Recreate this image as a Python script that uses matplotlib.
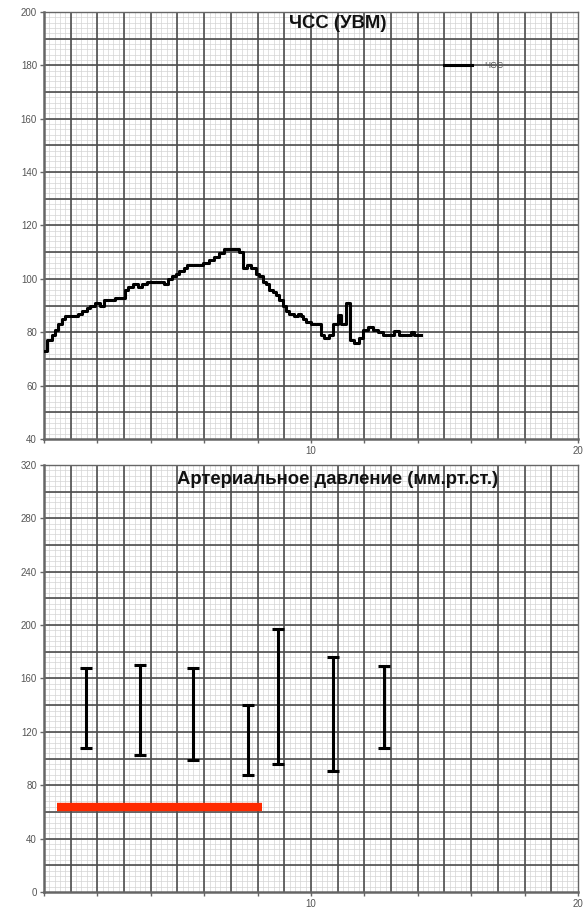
import matplotlib
matplotlib.use("Agg")
import matplotlib.pyplot as plt
import numpy as np

plt.rcParams["font.family"] = ["Liberation Sans", "DejaVu Sans"]

# heart rate trace: start of each step (x) and value held until the next step
hr_x = [0.0, 0.125, 0.29, 0.41, 0.54, 0.66, 0.79, 1.29, 1.41, 1.6, 1.73, 1.91,
        2.1, 2.23, 2.66, 3.04, 3.16, 3.35, 3.54, 3.66, 3.85, 4.48, 4.66, 4.79,
        4.95, 5.06, 5.25, 5.37, 5.94, 6.19, 6.37, 6.56, 6.75, 7.31, 7.44, 7.62,
        7.75, 7.94, 8.06, 8.19, 8.31, 8.44, 8.56, 8.69, 8.81, 8.94, 9.06, 9.19,
        9.37, 9.5, 9.62, 9.69, 9.81, 10.0, 10.37, 10.5, 10.69, 10.81, 11.0,
        11.12, 11.31, 11.46, 11.62, 11.81, 11.94, 12.12, 12.31, 12.5, 12.69,
        13.12, 13.31, 13.75, 13.87]
hr_y = [73, 77, 79, 81, 83, 85, 86, 87, 88, 89, 90, 91,
        90, 92, 93, 96, 97, 98, 97, 98, 99, 98, 100, 101,
        102, 103, 104, 105, 106, 107, 108, 109.5, 111, 110, 104, 105,
        104, 102, 101, 99, 98, 96, 95, 94, 92, 90, 88, 87,
        86, 87, 86, 85, 84, 83, 79, 78, 79, 83, 86.5,
        83, 91, 77, 76, 78, 81, 82, 81, 80, 79,
        80.5, 79, 80, 79]
hr_end = 14.12

# blood pressure measurements
bp_x = [1.56, 3.6, 5.57, 7.63, 8.78, 10.81, 12.75]
bp_sys = [168, 170, 168, 140, 197, 176, 169]
bp_dia = [108, 103, 99, 88, 96, 91, 108]

# red marker bar
red_x = [0.5, 8.15]
red_y = 63.5

TITLE_HR = "ЧСС (УВМ)"
TITLE_BP = "Артериальное давление (мм.рт.ст.)"


def graph_paper(ax, ymin, ymax, ymajor, ytick):
    ax.set_xlim(0, 20)
    ax.set_ylim(ymin, ymax)
    for x in np.arange(0, 20.01, 0.2):
        ax.axvline(x, color="#d4d4d4", lw=0.5, zorder=0)
    for y in np.arange(ymin, ymax + 0.01, ymajor / 5):
        ax.axhline(y, color="#d4d4d4", lw=0.5, zorder=0)
    for x in np.arange(1, 20, 1):
        ax.axvline(x, color="#4d4d4d", lw=1.2, zorder=1)
    for y in np.arange(ymin + ymajor, ymax, ymajor):
        ax.axhline(y, color="#4d4d4d", lw=1.2, zorder=1)
    for s in ax.spines.values():
        s.set_color("#666666")
    ax.spines["left"].set_linewidth(1.8)
    ax.spines["bottom"].set_linewidth(1.8)
    ax.spines["top"].set_linewidth(1.0)
    ax.spines["right"].set_linewidth(1.0)
    ax.set_xticks(np.arange(0, 21, 2))
    ax.set_xticklabels(["10" if v == 10 else "20" if v == 20 else "" for v in range(0, 21, 2)])
    ax.set_yticks(np.arange(ymin, ymax + 1, ytick))
    ax.tick_params(colors="#666666", labelsize=7, length=3, width=1.0,
                   labelcolor="#555555", pad=2)


fig = plt.figure(figsize=(5.84, 9.13), dpi=100)
ax1 = fig.add_axes([0.0753, 0.5192, 0.9144, 0.4677])
ax2 = fig.add_axes([0.0753, 0.023, 0.9144, 0.4677])

# top: heart rate
graph_paper(ax1, 40, 200, 10, 20)
ax1.step(hr_x + [hr_end], hr_y + [hr_y[-1]], where="post", color="black",
         lw=2.2, zorder=3, label="ЧСС")
ax1.text(0.55, 0.972, TITLE_HR, transform=ax1.transAxes, ha="center", va="center",
         fontsize=13.3, fontweight="bold", color="#111111")
ax1.legend(loc="center left", bbox_to_anchor=(0.75, 0.875), frameon=False,
           fontsize=6.5, handlelength=3.0, handletextpad=1.4, borderpad=0,
           borderaxespad=0, labelcolor="#555555")

# bottom: arterial pressure
graph_paper(ax2, 0, 320, 20, 40)
mid = [(s + d) / 2 for s, d in zip(bp_sys, bp_dia)]
half = [(s - d) / 2 for s, d in zip(bp_sys, bp_dia)]
ax2.errorbar(bp_x, mid, yerr=half, fmt="none", ecolor="black", elinewidth=2.2,
             capsize=4, capthick=2.2, zorder=3)
ax2.plot(red_x, [red_y, red_y], color="#ff2a00", lw=6, solid_capstyle="butt", zorder=4)
ax2.text(0.55, 0.967, TITLE_BP, transform=ax2.transAxes, ha="center", va="center",
         fontsize=13.3, fontweight="bold", color="#111111")

fig.savefig("out.png", dpi=100)
